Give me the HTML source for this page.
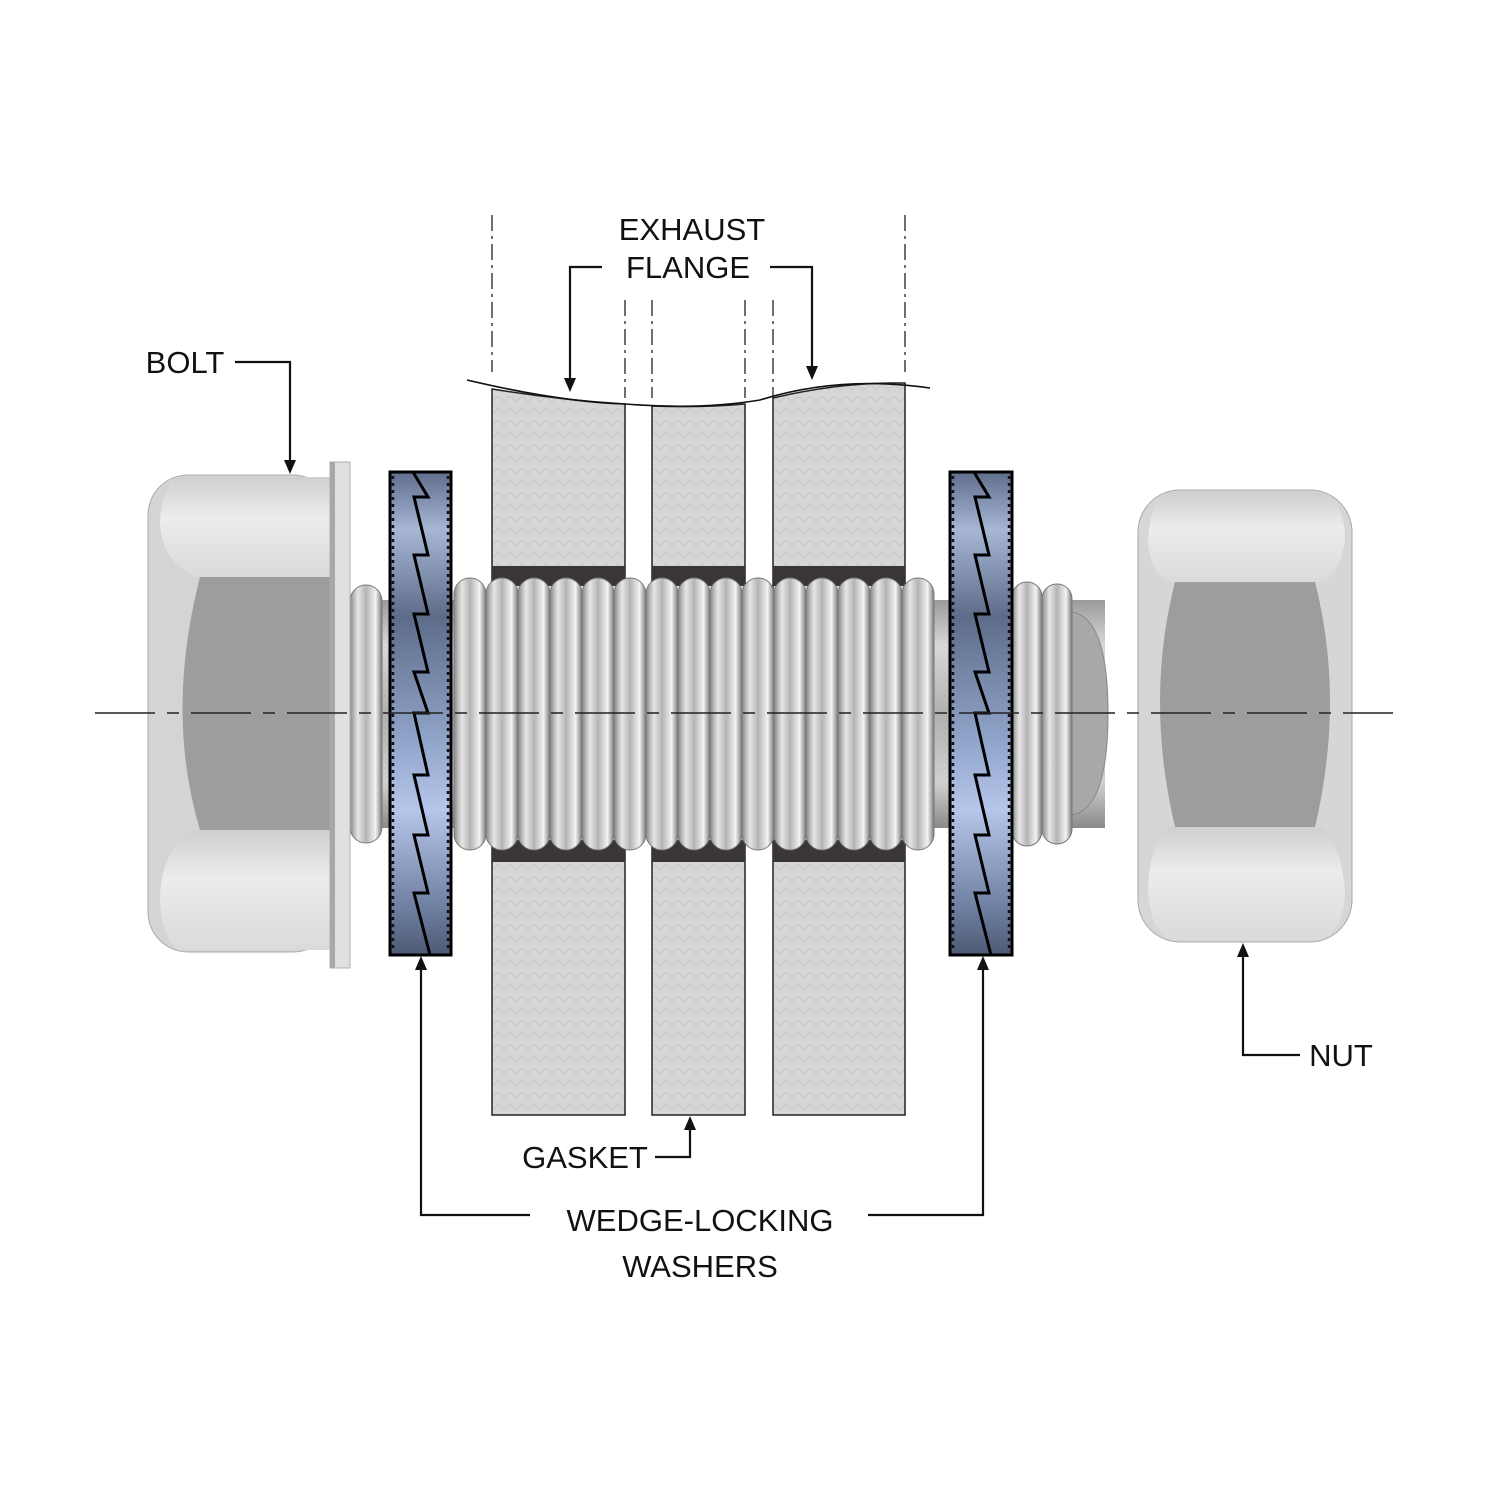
<!DOCTYPE html>
<html><head><meta charset="utf-8"><style>
html,body{margin:0;padding:0;background:#fff}
svg{display:block}
text{font-family:"Liberation Sans",sans-serif;font-size:31px;fill:#111}
</style></head><body>
<svg width="1500" height="1500" viewBox="0 0 1500 1500" xmlns="http://www.w3.org/2000/svg">
<defs>
<linearGradient id="thr" x1="0" y1="0" x2="1" y2="0">
<stop offset="0" stop-color="#8a8a8a"/><stop offset="0.25" stop-color="#e6e6e6"/><stop offset="0.5" stop-color="#b4b4b4"/><stop offset="0.8" stop-color="#f2f2f2"/><stop offset="1" stop-color="#7a7a7a"/>
</linearGradient>
<linearGradient id="shank" x1="0" y1="0" x2="0" y2="1">
<stop offset="0" stop-color="#9a9a9a"/><stop offset="0.2" stop-color="#d8d8d8"/><stop offset="0.5" stop-color="#b0b0b0"/><stop offset="0.8" stop-color="#d0d0d0"/><stop offset="1" stop-color="#8a8a8a"/>
</linearGradient>
<linearGradient id="blue" x1="0" y1="0" x2="0" y2="1">
<stop offset="0" stop-color="#5f6e8c"/><stop offset="0.12" stop-color="#a6b6d4"/><stop offset="0.3" stop-color="#5e6c8a"/><stop offset="0.55" stop-color="#8fa3c8"/><stop offset="0.7" stop-color="#b5c6ea"/><stop offset="0.9" stop-color="#6f80a2"/><stop offset="1" stop-color="#4e5a74"/>
</linearGradient>
<linearGradient id="bevT" x1="0" y1="0" x2="0" y2="1">
<stop offset="0" stop-color="#cfcfcf"/><stop offset="0.4" stop-color="#ececec"/><stop offset="1" stop-color="#dadada"/>
</linearGradient>
<linearGradient id="face" x1="0" y1="0" x2="1" y2="0">
<stop offset="0" stop-color="#bdbdbd"/><stop offset="0.1" stop-color="#8e8e8e"/><stop offset="0.5" stop-color="#9c9c9c"/><stop offset="0.9" stop-color="#999"/><stop offset="1" stop-color="#b5b5b5"/>
</linearGradient>
<pattern id="plate" width="12" height="12" patternUnits="userSpaceOnUse">
<rect width="12" height="12" fill="#d6d6d6"/><path d="M0 6 L6 0 L12 6" stroke="#c8c8c8" fill="none"/>
</pattern>
</defs>

<!-- dash-dot verticals -->
<g stroke="#222" stroke-width="1.3" stroke-dasharray="16,5,3,5" fill="none">
<line x1="492" y1="215" x2="492" y2="372"/><line x1="905" y1="215" x2="905" y2="372"/>
<line x1="625" y1="300" x2="625" y2="398"/><line x1="652" y1="300" x2="652" y2="398"/>
<line x1="745" y1="300" x2="745" y2="398"/><line x1="773" y1="300" x2="773" y2="398"/>
</g>

<!-- plates -->
<g stroke="#222" stroke-width="1.5" fill="url(#plate)">
<path d="M492 389 Q560 400 625 404 L625 1115 L492 1115 Z"/>
<path d="M652 406 Q700 408 745 404 L745 1115 L652 1115 Z"/>
<path d="M773 398 Q840 382 905 383 L905 1115 L773 1115 Z"/>
</g>
<path d="M467 380 Q560 402 625 404 Q700 410 760 400 Q840 375 930 388" stroke="#111" stroke-width="1.6" fill="none"/>
<!-- gaskets dark -->
<g fill="#3a3636">
<rect x="492" y="566" width="133" height="20"/><rect x="652" y="566" width="93" height="20"/><rect x="773" y="566" width="132" height="20"/>
<rect x="492" y="840" width="133" height="22"/><rect x="652" y="840" width="93" height="22"/><rect x="773" y="840" width="132" height="22"/>
</g>

<!-- shank -->
<rect x="345" y="600" width="760" height="228" fill="url(#shank)"/>
<path d="M1070 612 Q1108 615 1108 713 Q1108 812 1070 815 Z" fill="#a8a8a8" stroke="#888"/>
<g stroke="#777" stroke-width="1">
<rect x="350" y="585" width="32" height="258" rx="16" fill="url(#thr)"/>
<rect x="454" y="578" width="32" height="272" rx="16" fill="url(#thr)"/>
<rect x="486" y="578" width="32" height="272" rx="16" fill="url(#thr)"/>
<rect x="518" y="578" width="32" height="272" rx="16" fill="url(#thr)"/>
<rect x="550" y="578" width="32" height="272" rx="16" fill="url(#thr)"/>
<rect x="582" y="578" width="32" height="272" rx="16" fill="url(#thr)"/>
<rect x="614" y="578" width="32" height="272" rx="16" fill="url(#thr)"/>
<rect x="646" y="578" width="32" height="272" rx="16" fill="url(#thr)"/>
<rect x="678" y="578" width="32" height="272" rx="16" fill="url(#thr)"/>
<rect x="710" y="578" width="32" height="272" rx="16" fill="url(#thr)"/>
<rect x="742" y="578" width="32" height="272" rx="16" fill="url(#thr)"/>
<rect x="774" y="578" width="32" height="272" rx="16" fill="url(#thr)"/>
<rect x="806" y="578" width="32" height="272" rx="16" fill="url(#thr)"/>
<rect x="838" y="578" width="32" height="272" rx="16" fill="url(#thr)"/>
<rect x="870" y="578" width="32" height="272" rx="16" fill="url(#thr)"/>
<rect x="902" y="578" width="32" height="272" rx="16" fill="url(#thr)"/>
<rect x="1012" y="582" width="30" height="264" rx="15" fill="url(#thr)"/>
<rect x="1042" y="584" width="30" height="260" rx="15" fill="url(#thr)"/>
</g>

<!-- bolt head -->
<rect x="148" y="475" width="185" height="477" rx="40" fill="#d4d4d4" stroke="#aaa"/>
<path d="M180 477 L330 477 L330 577 L195 577 Q160 560 160 520 Q162 485 180 477Z" fill="url(#bevT)"/>
<path d="M180 950 L330 950 L330 830 L195 830 Q160 850 160 900 Q162 942 180 950Z" fill="url(#bevT)"/>
<path d="M200 577 L330 577 L330 830 L200 830 Q165 713 200 577Z" fill="#9d9d9d"/>
<rect x="330" y="462" width="20" height="506" fill="#e0e0e0" stroke="#b0b0b0"/>
<rect x="330" y="462" width="5" height="506" fill="#a8a8a8"/>

<!-- washers -->
<g stroke="#000" stroke-width="3">
<rect x="390" y="472" width="61" height="483" fill="url(#blue)"/>
<rect x="950" y="472" width="62" height="483" fill="url(#blue)"/>
<path fill="none" d="M413 472 L428 497 L414 497 L428 555 L414 555 L428 614 L414 614 L428 672 L414 672 L428 713 L414 713 L428 775 L414 775 L428 835 L414 835 L428 893 L414 893 L430 955"/>
<path fill="none" d="M974 472 L989 497 L975 497 L989 555 L975 555 L989 614 L975 614 L989 672 L975 672 L989 713 L975 713 L989 775 L975 775 L989 835 L975 835 L989 893 L975 893 L991 955"/>
</g>
<g stroke="#111" stroke-width="2.5" stroke-dasharray="3,4" fill="none">
<line x1="393" y1="476" x2="393" y2="952"/><line x1="448" y1="476" x2="448" y2="952"/>
<line x1="953" y1="476" x2="953" y2="952"/><line x1="1009" y1="476" x2="1009" y2="952"/>
</g>

<!-- nut -->
<rect x="1138" y="490" width="214" height="452" rx="42" fill="#d6d6d6" stroke="#aaa"/>
<path d="M1170 492 L1320 492 Q1345 500 1345 540 Q1340 575 1320 582 L1170 582 Q1150 575 1148 540 Q1150 500 1170 492Z" fill="url(#bevT)"/>
<path d="M1170 940 L1320 940 Q1345 930 1345 890 Q1340 840 1320 827 L1170 827 Q1150 840 1148 890 Q1150 930 1170 940Z" fill="url(#bevT)"/>
<path d="M1175 582 L1315 582 Q1345 700 1315 827 L1175 827 Q1145 700 1175 582Z" fill="#9d9d9d"/>

<!-- centerline -->
<line x1="95" y1="713" x2="1393" y2="713" stroke="#222" stroke-width="1.4" stroke-dasharray="60,12,12,12"/>

<!-- leaders -->
<g stroke="#111" stroke-width="2.2" fill="none">
<polyline points="235,362 290,362 290,462"/>
<polyline points="602,267 570,267 570,380"/>
<polyline points="770,267 812,267 812,368"/>
<polyline points="1300,1055 1243,1055 1243,955"/>
<polyline points="655,1157 690,1157 690,1128"/>
<polyline points="530,1215 421,1215 421,968"/>
<polyline points="868,1215 983,1215 983,968"/>
</g>
<g fill="#111">
<path d="M284 460 L296 460 L290 474Z"/>
<path d="M564 378 L576 378 L570 392Z"/>
<path d="M806 366 L818 366 L812 380Z"/>
<path d="M1237 957 L1249 957 L1243 943Z"/>
<path d="M684 1130 L696 1130 L690 1116Z"/>
<path d="M415 970 L427 970 L421 956Z"/>
<path d="M977 970 L989 970 L983 956Z"/>
</g>

<text x="692" y="240" text-anchor="middle">EXHAUST</text>
<text x="688" y="278" text-anchor="middle">FLANGE</text>
<text x="185" y="373" text-anchor="middle">BOLT</text>
<text x="1341" y="1066" text-anchor="middle">NUT</text>
<text x="585" y="1168" text-anchor="middle">GASKET</text>
<text x="700" y="1231" text-anchor="middle">WEDGE-LOCKING</text>
<text x="700" y="1277" text-anchor="middle">WASHERS</text>
</svg>
</body></html>
